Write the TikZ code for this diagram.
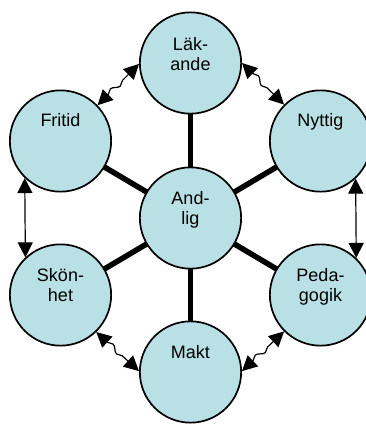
\documentclass[tikz,border=0pt]{standalone}
\usepackage{fontspec}
\setmainfont{Liberation Sans}
\usetikzlibrary{arrows.meta,decorations.pathmorphing}
\definecolor{circfill}{RGB}{185,224,228}
\begin{document}
\begin{tikzpicture}[x=1pt,y=1pt,
  circ/.style={circle, draw=black, line width=1.7pt, fill=circfill, minimum size=101.3pt, inner sep=0pt},
  lbl/.style={font=\fontsize{18}{20}\selectfont, align=center, anchor=base, inner sep=0pt},
  spoke/.style={line width=5.5pt},
  dbl/.style={line width=1.2pt, arrows={Triangle[length=15pt,width=15pt]-Triangle[length=15pt,width=15pt]}},
  wavy/.style={dbl, decorate, decoration={snake, amplitude=2.5pt, segment length=18pt, pre length=15pt, post length=15pt}}]
\useasboundingbox (0,0) rectangle (366,-424);
% centres
\coordinate (pAn) at (190.5,-218);
\coordinate (pLa) at (190.5,-63);
\coordinate (pMa) at (190.5,-372);
\coordinate (pFr) at (60.5,-141);
\coordinate (pNy) at (320.5,-141);
\coordinate (pSk) at (60.5,-295);
\coordinate (pPe) at (320.5,-295);
% spokes
\draw[spoke] (pAn) -- (pLa);
\draw[spoke] (pAn) -- (pMa);
\draw[spoke] (pAn) -- (pFr);
\draw[spoke] (pAn) -- (pNy);
\draw[spoke] (pAn) -- (pSk);
\draw[spoke] (pAn) -- (pPe);
% circles
\node[circ] (an) at (pAn) {};
\node[circ] (la) at (pLa) {};
\node[circ] (ma) at (pMa) {};
\node[circ] (fr) at (pFr) {};
\node[circ] (ny) at (pNy) {};
\node[circ] (sk) at (pSk) {};
\node[circ] (pe) at (pPe) {};
% labels (base = last line's baseline)
\node[lbl] (an-t) at (190.5,-224) {And-\\lig};
\node[lbl] (la-t) at (190.5,-70) {Läk-\\ande};
\node[lbl] (ma-t) at (190.5,-358) {Makt};
\node[lbl] (fr-t) at (60.5,-126) {Fritid};
\node[lbl] (ny-t) at (320.5,-126) {Nyttig};
\node[lbl] (sk-t) at (60.5,-301) {Skön-\\het};
\node[lbl] (pe-t) at (320.5,-301) {Peda-\\gogik};
% straight double arrows
\draw[dbl] (fr.226.4) -- (sk.133.6);
\draw[dbl] (ny.313.6) -- (pe.46.4);
% wavy double arrows
\draw[wavy] (fr.44.6) -- (la.181);
\draw[wavy] (la.0) -- (ny.135.4);
\draw[wavy] (sk.314.6) -- (ma.179);
\draw[wavy] (ma.1) -- (pe.225.4);
\end{tikzpicture}
\end{document}
